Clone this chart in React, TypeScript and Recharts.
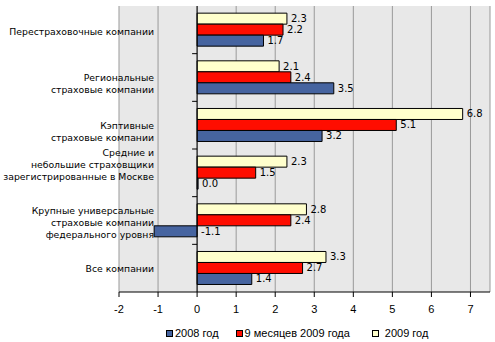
import React from 'react';
import {
  BarChart, Bar, XAxis, YAxis, CartesianGrid, Legend, LabelList, ReferenceLine,
} from 'recharts';

const categories = [
  'Перестраховочные компании',
  'Региональные\nстраховые компании',
  'Кэптивные\nстраховые компании',
  'Средние и\nнебольшие страховщики\nзарегистрированные в Москве',
  'Крупные универсальные\nстраховые компании\nфедерального уровня',
  'Все компании',
];
const y2008 = [1.7, 3.5, 3.2, 0.0, -1.1, 1.4];
const m9of2009 = [2.2, 2.4, 5.1, 1.5, 2.4, 2.7];
const y2009 = [2.3, 2.1, 6.8, 2.3, 2.8, 3.3];
const xTicks = [-2, -1, 0, 1, 2, 3, 4, 5, 6, 7];
const seriesNames = ['2008 год', '9 месяцев 2009 года', '2009 год'];

const COLORS = ['#4664a0', '#ff0d00', '#ffffcc'];
// small vertical nudges so the wrapped labels sit like in the original
const labelShift = [2, 5.5, 6, -8, 2, 0];

const data = categories.map((name, i) => ({
  name,
  a: y2008[i],
  b: m9of2009[i],
  c: y2009[i],
}));

const CategoryTick = (props: any) => {
  const { y, payload, index } = props;
  const lines = String(payload.value).split('\n');
  const top = y - ((lines.length - 1) * 12) / 2 + (labelShift[index] ?? 0);
  return (
    <g>
      {lines.map((ln, k) => (
        <text
          key={k}
          x={154}
          y={top + k * 12}
          textAnchor="end"
          dominantBaseline="central"
          fontSize={9.3}
          fontFamily="DejaVu Sans"
          fill="#000"
        >
          {ln}
        </text>
      ))}
    </g>
  );
};

const ValueLabel = (props: any) => {
  const { x, y, width, height, value } = props;
  const right = Math.max(x, x + width);
  return (
    <text
      x={right + 4}
      y={y + height / 2}
      dominantBaseline="central"
      fontSize={10}
      fontFamily="DejaVu Sans"
      fill="#000"
    >
      {Number(value).toFixed(1)}
    </text>
  );
};

// vertical axis sits at x = 0, with tick marks between the categories
const ZeroAxis = (props: any) => {
  const { x1, y1, x2, y2 } = props;
  const n = categories.length;
  const marks = [];
  for (let k = 1; k < n; k++) {
    const yy = y1 + ((y2 - y1) * k) / n;
    marks.push(<line key={k} x1={x1 - 5} x2={x1} y1={yy} y2={yy} stroke="#000" />);
  }
  return (
    <g>
      <line x1={x1} y1={y1} x2={x2} y2={y2} stroke="#000" />
      {marks}
    </g>
  );
};

const LegendBox = () => {
  const order = [0, 1, 2];
  return (
    <div
      style={{
        display: 'flex',
        alignItems: 'center',
        height: 18,
        paddingLeft: 166,
        fontFamily: 'Liberation Sans',
        fontSize: 11,
        color: '#000',
      }}
    >
      {order.map((i) => (
        <div key={i} style={{ display: 'flex', alignItems: 'center', marginRight: i === 0 ? 17 : 22 }}>
          <span
            style={{
              width: 5,
              height: 5,
              border: '1px solid #000',
              background: COLORS[i],
              marginRight: i === 2 ? 6 : 2,
            }}
          />
          <span>{seriesNames[i]}</span>
        </div>
      ))}
    </div>
  );
};

export default function App() {
  return (
    <div style={{ position: 'absolute', left: 0, top: 0, width: 495, height: 342, background: '#fff' }}>
      <BarChart
        width={495}
        height={342}
        data={data}
        layout="vertical"
        margin={{ top: 6, right: 5, left: 0, bottom: 0 }}
        barCategoryGap="15%"
        barGap={0}
      >
        <CartesianGrid horizontal={false} stroke="#999" fill="#e8e8e8" />
        <XAxis
          type="number"
          domain={[-2, 7.5]}
          ticks={xTicks}
          height={32}
          tickSize={5}
          tickMargin={8}
          axisLine={{ stroke: '#000' }}
          tickLine={{ stroke: '#000' }}
          tick={{ fill: '#000', fontSize: 11, fontFamily: 'Liberation Sans' }}
        />
        <XAxis
          xAxisId="top"
          orientation="top"
          type="number"
          domain={[-2, 7.5]}
          ticks={xTicks}
          height={0}
          tick={false}
          tickLine={false}
          axisLine={{ stroke: '#6a80b2', strokeDasharray: '2 2' }}
        />
        <YAxis
          type="category"
          dataKey="name"
          width={119}
          interval={0}
          axisLine={false}
          tickLine={false}
          tick={<CategoryTick />}
        />
        <Bar dataKey="c" name={seriesNames[2]} fill={COLORS[2]} stroke="#000" strokeWidth={1} isAnimationActive={false}>
          <LabelList dataKey="c" content={ValueLabel} />
        </Bar>
        <Bar dataKey="b" name={seriesNames[1]} fill={COLORS[1]} stroke="#000" strokeWidth={1} isAnimationActive={false}>
          <LabelList dataKey="b" content={ValueLabel} />
        </Bar>
        <Bar dataKey="a" name={seriesNames[0]} fill={COLORS[0]} stroke="#000" strokeWidth={1} minPointSize={1} isAnimationActive={false}>
          <LabelList dataKey="a" content={ValueLabel} />
        </Bar>
        <ReferenceLine x={0} stroke="#000" shape={ZeroAxis} />
        <Legend verticalAlign="bottom" height={18} wrapperStyle={{ left: 0, width: 495 }} content={() => <LegendBox />} />
      </BarChart>
    </div>
  );
}
